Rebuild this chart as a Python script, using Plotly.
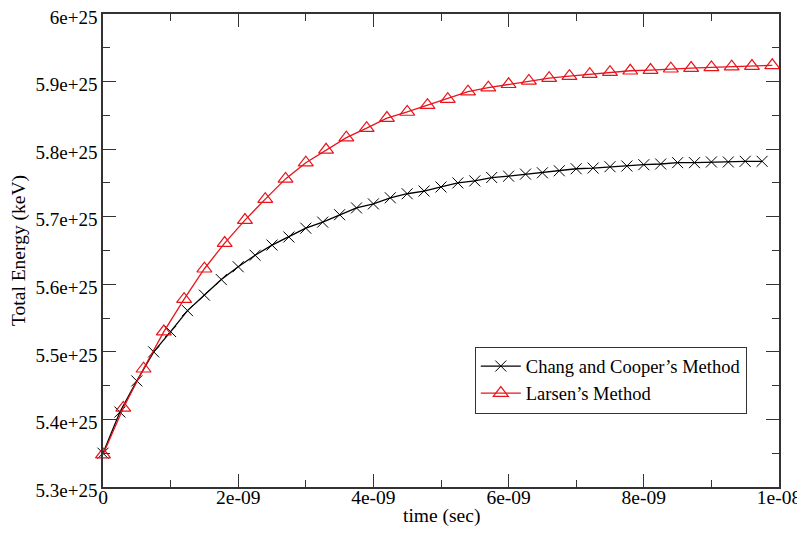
import plotly.graph_objects as go

# Time (ns) and total energy (units of 1e25 keV)
larsen_t_ns = [0.0, 0.3, 0.6, 0.9, 1.2, 1.5, 1.8, 2.1, 2.4, 2.7, 3.0, 3.3, 3.6, 3.9,
               4.2, 4.5, 4.8, 5.1, 5.4, 5.7, 6.0, 6.3, 6.6, 6.9, 7.2, 7.5, 7.8, 8.1,
               8.4, 8.7, 9.0, 9.3, 9.6, 9.9]
larsen_E = [5.348, 5.417, 5.475, 5.530, 5.578, 5.623, 5.661, 5.695, 5.726, 5.756,
            5.780, 5.799, 5.817, 5.831, 5.846, 5.855, 5.865, 5.874, 5.885, 5.891,
            5.896, 5.901, 5.905, 5.908, 5.911, 5.914, 5.916, 5.917, 5.919, 5.920,
            5.921, 5.922, 5.923, 5.924]

chang_t_ns = [0.0, 0.25, 0.5, 0.75, 1.0, 1.25, 1.5, 1.75, 2.0, 2.25, 2.5, 2.75, 3.0,
              3.25, 3.5, 3.75, 4.0, 4.25, 4.5, 4.75, 5.0, 5.25, 5.5, 5.75, 6.0, 6.25,
              6.5, 6.75, 7.0, 7.25, 7.5, 7.75, 8.0, 8.25, 8.5, 8.75, 9.0, 9.25, 9.5, 9.75]
chang_E = [5.350, 5.411, 5.457, 5.500, 5.530, 5.561, 5.584, 5.607, 5.626, 5.643,
           5.658, 5.670, 5.683, 5.692, 5.703, 5.713, 5.719, 5.728, 5.734, 5.738,
           5.744, 5.750, 5.753, 5.758, 5.760, 5.763, 5.765, 5.768, 5.771, 5.772,
           5.774, 5.775, 5.777, 5.778, 5.780, 5.780, 5.781, 5.781, 5.782, 5.782]

x_tick_vals = [0, 2e-9, 4e-9, 6e-9, 8e-9, 1e-8]
x_tick_text = ["0", "2e-09", "4e-09", "6e-09", "8e-09", "1e-08"]
y_tick_vals = [5.3e25, 5.4e25, 5.5e25, 5.6e25, 5.7e25, 5.8e25, 5.9e25, 6e25]
y_tick_text = ["5.3e+25", "5.4e+25", "5.5e+25", "5.6e+25", "5.7e+25", "5.8e+25", "5.9e+25", "6e+25"]
x_title = "time (sec)"
y_title = "Total Energy (keV)"

FONT = "Liberation Serif"
AX = "#333333"
FS = 19.5

fig = go.Figure()
fig.add_trace(go.Scatter(
    x=[t * 1e-9 for t in chang_t_ns], y=[e * 1e25 for e in chang_E],
    mode="lines+markers", name="Chang and Cooper\u2019s Method",
    line=dict(color="black", width=1.3),
    marker=dict(symbol="x-thin-open", size=11, color="black", line=dict(width=1, color="#111111")),
    cliponaxis=False,
))
fig.add_trace(go.Scatter(
    x=[t * 1e-9 for t in larsen_t_ns], y=[e * 1e25 for e in larsen_E],
    mode="lines+markers", name="Larsen\u2019s Method",
    line=dict(color="#e8141c", width=1.3),
    marker=dict(symbol="triangle-up-open", size=13, color="#e8141c", line=dict(width=1.2, color="#e8141c")),
    cliponaxis=False,
))

# The page body adds an 8px offset, so the figure is sized to fit the window.
fig.update_layout(
    width=797, height=530,
    margin=dict(l=95, r=26, t=6, b=51, autoexpand=False),
    paper_bgcolor="white", plot_bgcolor="white",
    font=dict(family=FONT, size=FS, color="black"),
    showlegend=True,
    legend=dict(x=0.55, y=0.297, xanchor="left", yanchor="top",
                bgcolor="white", bordercolor="#333333", borderwidth=1,
                font=dict(family=FONT, size=18.5), itemwidth=40,
                tracegroupgap=0),
    annotations=[dict(text=x_title, xref="paper", yref="paper", x=0.5, y=0,
                      xanchor="center", yanchor="middle", yshift=-29, showarrow=False,
                      font=dict(family=FONT, size=FS))],
)
fig.update_xaxes(
    range=[0, 1e-8], tickmode="array", tickvals=x_tick_vals, ticktext=x_tick_text,
    ticks="inside", ticklen=13, tickwidth=1.3, tickcolor=AX,
    showline=True, linecolor=AX, linewidth=1.5, mirror="ticks",
    showgrid=False, zeroline=False, automargin=False, ticklabeloverflow="allow",
    ticklabelstandoff=-8,
    minor=dict(ticks="inside", ticklen=7, tickwidth=1.3, tickcolor=AX, tick0=0, dtick=1e-9, showgrid=False),
    tickfont=dict(family=FONT, size=FS),
)
fig.update_yaxes(
    range=[5.3e25, 6e25], tickmode="array", tickvals=y_tick_vals, ticktext=y_tick_text,
    ticks="inside", ticklen=13, tickwidth=1.3, tickcolor=AX,
    showline=True, linecolor=AX, linewidth=1.5, mirror="ticks",
    showgrid=False, zeroline=False, automargin=False, ticklabeloverflow="allow",
    ticklabelshift=3,
    minor=dict(ticks="inside", ticklen=7, tickwidth=1.3, tickcolor=AX, tick0=5.3e25, dtick=0.05e25, showgrid=False),
    title=dict(text=y_title, font=dict(family=FONT, size=FS), standoff=8),
    tickfont=dict(family=FONT, size=19),
)

fig.write_html("out.html")
